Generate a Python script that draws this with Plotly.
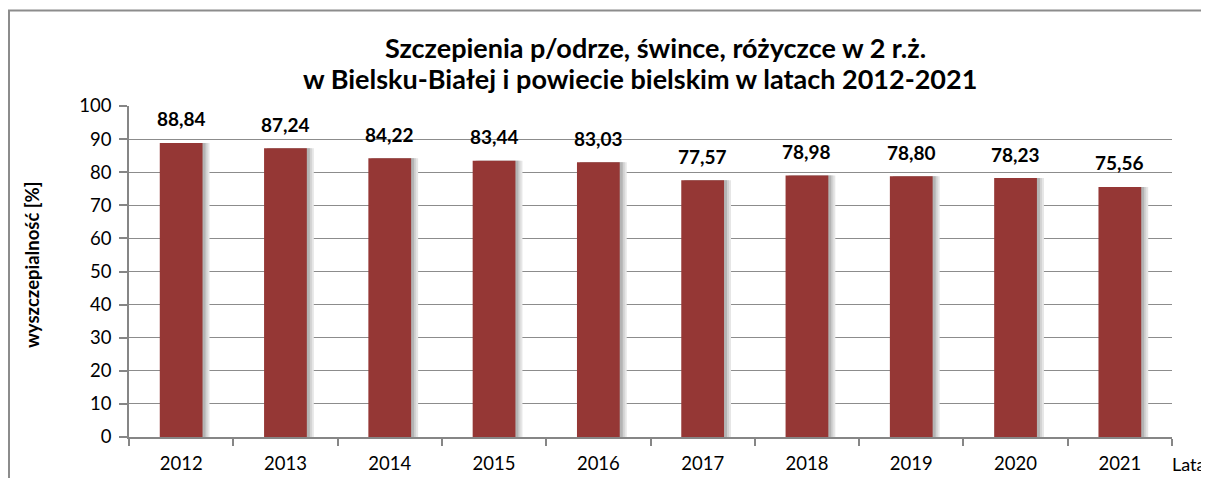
import plotly.graph_objects as go

years = ["2012", "2013", "2014", "2015", "2016", "2017", "2018", "2019", "2020", "2021"]
values = [88.84, 87.24, 84.22, 83.44, 83.03, 77.57, 78.98, 78.80, 78.23, 75.56]
labels = ["88,84", "87,24", "84,22", "83,44", "83,03", "77,57", "78,98", "78,80", "78,23", "75,56"]

# page body adds an 8px margin, so the figure is drawn at (8, 8)
OFF = 8
W, H = 1209 - OFF, 478 - OFF
L, R, T, B = 129 - OFF, 37, 106 - OFF, 41
pw, ph = W - L - R, H - T - B

def px_x(p):
    return (p - OFF - L) / pw

def px_y(p):
    return (H - B - (p - OFF)) / ph

FONT = "Lato, Carlito, Calibri, sans-serif"
BAR = "#953735"
BW = 0.41
unit = 10 / pw  # category units per pixel

fig = go.Figure()
# soft shadow to the right of each bar
for shift, col in [(7, "#e6e6e6"), (5, "#d2d2d2"), (3, "#b4b4b4")]:
    fig.add_trace(go.Bar(x=years, y=values, width=BW, offset=-BW / 2 + shift * unit,
                         marker=dict(color=col, line=dict(width=0)), hoverinfo="skip"))
fig.add_trace(go.Bar(x=years, y=values, width=BW, offset=-BW / 2,
                     marker=dict(color=BAR, line=dict(width=0)), hoverinfo="skip"))

annotations = []
for i, (v, lab) in enumerate(zip(values, labels)):
    annotations.append(dict(x=i, y=v, xref="x", yref="y", text="<b>" + lab + "</b>",
                            showarrow=False, yanchor="middle", yshift=24,
                            font=dict(family=FONT, size=19, color="#000000")))
annotations.append(dict(xref="paper", yref="paper", x=px_x(1207), y=px_y(464), text="Lata",
                        showarrow=False, xanchor="right", yanchor="middle",
                        font=dict(family=FONT, size=18, color="#000000")))
annotations.append(dict(xref="paper", yref="paper", x=px_x(32), y=px_y(265),
                        text="<b>wyszczepialność [%]</b>", textangle=-90, showarrow=False,
                        xanchor="center", yanchor="middle",
                        font=dict(family=FONT, size=18.5, color="#000000")))
annotations.append(dict(xref="paper", yref="paper", x=px_x(655), y=px_y(47),
                        text="<b>Szczepienia p/odrze, śwince, różyczce w 2 r.ż.</b>",
                        showarrow=False, xanchor="center", yanchor="middle",
                        font=dict(family=FONT, size=27, color="#000000")))
annotations.append(dict(xref="paper", yref="paper", x=px_x(640), y=px_y(79),
                        text="<b>w Bielsku-Białej i powiecie bielskim w latach 2012-2021</b>",
                        showarrow=False, xanchor="center", yanchor="middle",
                        font=dict(family=FONT, size=27, color="#000000")))

shapes = [dict(type="rect", xref="paper", yref="paper", x0=px_x(9), y0=px_y(540),
               x1=px_x(1280), y1=px_y(10.5), line=dict(color="#8c8c8c", width=2),
               fillcolor="rgba(0,0,0,0)", layer="below")]

fig.update_layout(
    width=W, height=H,
    margin=dict(l=L, r=R, t=T, b=B, pad=0, autoexpand=False),
    paper_bgcolor="white", plot_bgcolor="white",
    showlegend=False, barmode="overlay",
    annotations=annotations,
    shapes=shapes,
    xaxis=dict(type="category", range=[-0.5, 9.5], autorange=False, showgrid=False,
               showline=True, linecolor="#868686", linewidth=1.5, automargin=False,
               ticks="outside", ticklen=7, tickcolor="#868686", tickwidth=1.5,
               tickson="boundaries", tickangle=0, ticklabelstandoff=9,
               tickfont=dict(family=FONT, size=18.5, color="#000000"), fixedrange=True),
    yaxis=dict(range=[0, 100], autorange=False, dtick=10, showgrid=True, gridcolor="#8c8c8c",
               gridwidth=1.2, showline=True, linecolor="#868686", linewidth=1.5,
               ticks="outside", ticklen=8, tickcolor="#868686", tickwidth=1.5, zeroline=False,
               ticklabelstandoff=4, automargin=False,
               tickfont=dict(family=FONT, size=18.5, color="#000000"), fixedrange=True),
)

fig.write_html("out.html")
